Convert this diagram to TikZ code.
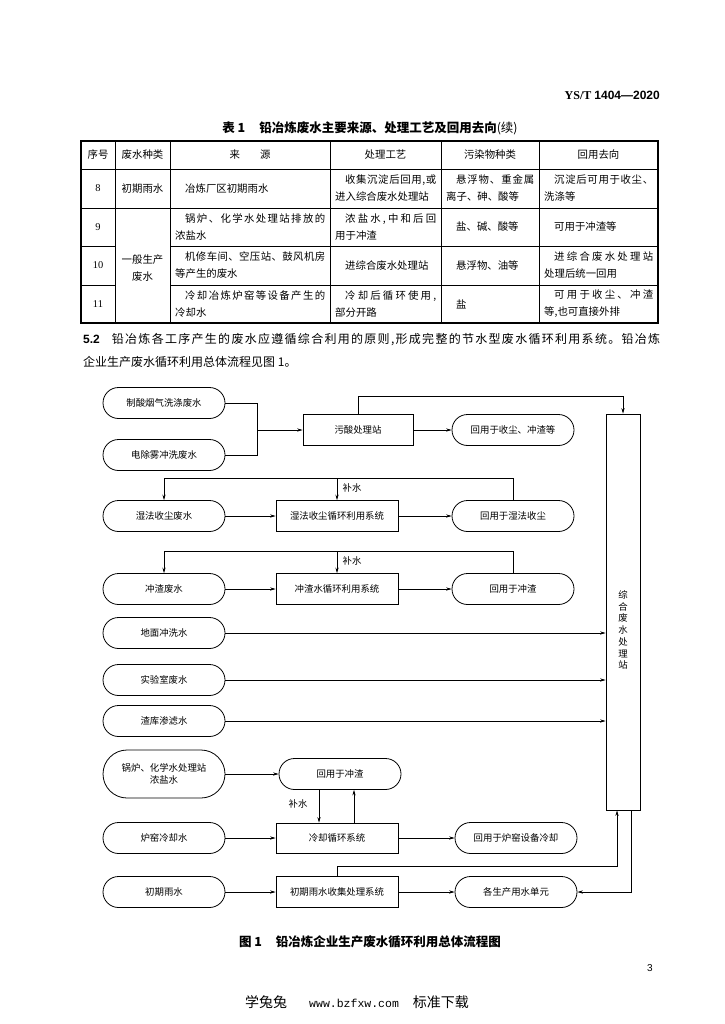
\documentclass[tikz,border=0pt]{standalone}
\usepackage{fontspec}
\setmainfont{Liberation Serif}
\newfontfamily\cjk{Noto Sans CJK SC}
\newfontfamily\lsans{Liberation Sans}
\newfontfamily\lmono{Liberation Mono}
\usetikzlibrary{arrows.meta}
\makeatletter
\newcommand\spreadbox[3]{\hbox to #1{#2\def\sb@sep{}\@tfor\sb@c:=#3\do{\sb@sep\sb@c\def\sb@sep{\hfil}}}}
\makeatother
\newcommand\fl[2]{\spreadbox{#1}{\hskip10pt}{#2}}
\begin{document}
\begin{tikzpicture}[x=1pt,y=-1pt,
  tb/.style={font=\cjk\fontsize{10.4}{17}\selectfont, inner sep=0pt},
  tn/.style={font=\fontsize{10.4}{17}\selectfont, inner sep=0pt},
  flbox/.style={draw, line width=0.8pt, minimum width=122pt, minimum height=31pt, inner sep=0pt, font=\cjk\fontsize{9.4}{12}\selectfont, align=center},
  stad/.style={flbox, rounded corners=15.5pt},
  sys/.style={flbox},
  ln/.style={line width=0.6pt},
  flow/.style={ln, -{Stealth[length=5.5pt,width=3.2pt]}},
  lbl/.style={font=\cjk\fontsize{9.4}{12}\selectfont, inner sep=0pt},
  thin/.style={line width=0.5pt},
]
\useasboundingbox[fill=white] (0,0) rectangle (724,1024);

% header
\node[anchor=east, inner sep=0pt, font=\fontsize{12}{14}\selectfont\bfseries] (hdr) at (660,95) {YS/T {\lsans\bfseries 1404—2020}};
\node[inner sep=0pt, font=\cjk\fontsize{12.5}{15}\selectfont] (ttl) at (370,128) {{\bfseries 表 1\hspace{14pt}铅冶炼废水主要来源、处理工艺及回用去向}(续)};

% table grid
\draw[line width=1.1pt] (81,141) rectangle (658,323);
\foreach \x in {115,170,330,441,539} \draw[thin] (\x,141) -- (\x,323);
\draw[thin] (81,169) -- (658,169) (81,208) -- (658,208)
  (81,246) -- (115,246) (170,246) -- (658,246)
  (81,285) -- (115,285) (170,285) -- (658,285);

% table header
\node[tb] (h1) at (98,155) {序号};
\node[tb] (h2) at (142.5,155) {废水种类};
\node[tb] (h3) at (250,155) {来\hspace{20pt}源};
\node[tb] (h4) at (385.5,155) {处理工艺};
\node[tb] (h5) at (490,155) {污染物种类};
\node[tb] (h6) at (598.5,155) {回用去向};

% row 8
\node[tn] (n8) at (98,188.5) {8};
\node[tb] (t8b) at (142.5,188.5) {初期雨水};
\node[tb, anchor=west] (t8c) at (185,188.5) {冶炼厂区初期雨水};
\node[tb, anchor=west, align=left] (t8d) at (335,188.5) {\fl{101pt}{收集沉淀后回用,或}\\进入综合废水处理站};
\node[tb, anchor=west, align=left] (t8e) at (446,188.5) {\fl{88pt}{悬浮物、重金属}\\离子、砷、酸等};
\node[tb, anchor=west, align=left] (t8f) at (544,188.5) {\fl{109pt}{沉淀后可用于收尘、}\\洗涤等};

% row 9
\node[tn] (n9) at (98,227) {9};
\node[tb, align=center] (t9b) at (142.5,268) {一般生产\\废水};
\node[tb, anchor=west, align=left] (t9c) at (175,227) {\fl{150pt}{锅炉、化学水处理站排放的}\\浓盐水};
\node[tb, anchor=west, align=left] (t9d) at (335,227) {\fl{101pt}{浓盐水,中和后回}\\用于冲渣};
\node[tb, anchor=west] (t9e) at (456,227) {盐、碱、酸等};
\node[tb, anchor=west] (t9f) at (554,227) {可用于冲渣等};

% row 10
\node[tn] (n10) at (98,265.5) {10};
\node[tb, anchor=west, align=left] (t10c) at (175,265.5) {\fl{150pt}{机修车间、空压站、鼓风机房}\\等产生的废水};
\node[tb, anchor=west] (t10d) at (345,265.5) {进综合废水处理站};
\node[tb, anchor=west] (t10e) at (456,265.5) {悬浮物、油等};
\node[tb, anchor=west, align=left] (t10f) at (544,265.5) {\fl{109pt}{进综合废水处理站}\\处理后统一回用};

% row 11
\node[tn] (n11) at (98,304) {11};
\node[tb, anchor=west, align=left] (t11c) at (175,304) {\fl{150pt}{冷却冶炼炉窑等设备产生的}\\冷却水};
\node[tb, anchor=west, align=left] (t11d) at (335,304) {\fl{101pt}{冷却后循环使用,}\\部分开路};
\node[tb, anchor=west] (t11e) at (456,304) {盐};
\node[tb, anchor=west, align=left] (t11f) at (544,304) {\fl{109pt}{可用于收尘、冲渣}\\等,也可直接外排};

% paragraph
\node[anchor=west, inner sep=0pt, font=\cjk\fontsize{12}{14}\selectfont] (par1) at (83,340)
  {\spreadbox{577pt}{{\lsans\bfseries 5.2}\hskip12pt}{铅冶炼各工序产生的废水应遵循综合利用的原则,形成完整的节水型废水循环利用系统。铅冶炼}};
\node[anchor=west, inner sep=0pt, font=\cjk\fontsize{12}{14}\selectfont] (par2) at (83,362)
  {企业生产废水循环利用总体流程见图 1。};

% flowchart
\node[stad] (a1) at (164,403) {制酸烟气洗涤废水};
\node[stad] (a2) at (164,455) {电除雾冲洗废水};
\coordinate (jn) at (257,430);
\node[sys, minimum width=110pt] (s1) at (358,430) {污酸处理站};
\node[stad] (r1) at (513,430) {回用于收尘、冲渣等};
\node[draw, line width=0.8pt, minimum width=34pt, minimum height=396pt, inner sep=0pt] (Z) at (623,612) {};
\node[lbl, align=center, font=\cjk\fontsize{9.4}{11.7}\selectfont] (zt) at (623,630) {综\\合\\废\\水\\处\\理\\站};

\draw[ln] (a1.east) -| (jn);
\draw[ln] (a2.east) -| (jn);
\draw[flow] (jn) -- (s1.west);
\draw[flow] (s1) -- (r1);
\coordinate (k1) at (623,396);
\draw[flow] (s1.north) |- (k1) -- (Z.north);

\node[stad] (b1) at (164,516) {湿法收尘废水};
\node[sys] (s2) at (337,516) {湿法收尘循环利用系统};
\node[stad] (r2) at (513,516) {回用于湿法收尘};
\coordinate (k2) at (337,478);
\draw[flow] (r2.north) |- (b1.north |- k2) -- (b1.north);
\draw[flow] (k2) -- (s2.north);
\node[lbl] (bs1) at (352,488) {补水};
\draw[flow] (b1) -- (s2);
\draw[flow] (s2) -- (r2);

\node[stad] (c1) at (164,589) {冲渣废水};
\node[sys] (s3) at (337,589) {冲渣水循环利用系统};
\node[stad] (r3) at (513,589) {回用于冲渣};
\coordinate (k3) at (337,551);
\draw[flow] (r3.north) |- (c1.north |- k3) -- (c1.north);
\draw[flow] (k3) -- (s3.north);
\node[lbl] (bs2) at (352,561) {补水};
\draw[flow] (c1) -- (s3);
\draw[flow] (s3) -- (r3);

\node[stad] (d1) at (164,633) {地面冲洗水};
\node[stad] (d2) at (164,680) {实验室废水};
\node[stad] (d3) at (164,721) {渣库渗滤水};
\draw[flow] (d1) -- (d1 -| Z.west);
\draw[flow] (d2) -- (d2 -| Z.west);
\draw[flow] (d3) -- (d3 -| Z.west);

\node[stad, minimum height=48pt, rounded corners=24pt] (e1) at (164,774) {锅炉、化学水处理站\\浓盐水};
\node[stad] (e2) at (340,774) {回用于冲渣};
\node[sys, minimum height=30pt] (cool) at (337,838) {冷却循环系统};
\draw[flow] (e1) -- (e2);
\path ([xshift=-21pt]e2.south) coordinate (p1);
\draw[flow] (p1) -- (p1 |- cool.north);
\path ([xshift=17pt]cool.north) coordinate (p2);
\draw[flow] (p2) -- (p2 |- e2.south);
\node[lbl] (bs3) at (298,804) {补水};

\node[stad] (f1) at (164,838) {炉窑冷却水};
\node[stad] (f3) at (516,838) {回用于炉窑设备冷却};
\draw[flow] (f1) -- (cool);
\draw[flow] (cool) -- (f3);

\node[stad] (g1) at (164,892) {初期雨水};
\node[sys] (g2) at (337,892) {初期雨水收集处理系统};
\node[stad] (g3) at (516,892) {各生产用水单元};
\draw[flow] (g1) -- (g2);
\draw[flow] (g2) -- (g3);
\coordinate (k5) at (617,866);
\draw[flow] (g2.north) |- (k5) -- (k5 |- Z.south);
\path ([xshift=8pt]Z.south) coordinate (p3);
\draw[flow] (p3) |- (g3.east);

% caption and footer
\node[inner sep=0pt, font=\cjk\fontsize{12.5}{15}\selectfont\bfseries] (cap) at (370,942) {图 1\hspace{14pt}铅冶炼企业生产废水循环利用总体流程图};
\node[inner sep=0pt, font=\lsans\fontsize{10}{12}\selectfont] (pg) at (650,968) {3};
\node[anchor=west, inner sep=0pt, font=\cjk\fontsize{14}{16}\selectfont] (ft) at (245,1002)
  {学兔兔\hspace{22pt}{\lmono\fontsize{11.5}{14}\selectfont www.bzfxw.com}\hspace{14pt}标准下载};
\end{tikzpicture}
\end{document}
